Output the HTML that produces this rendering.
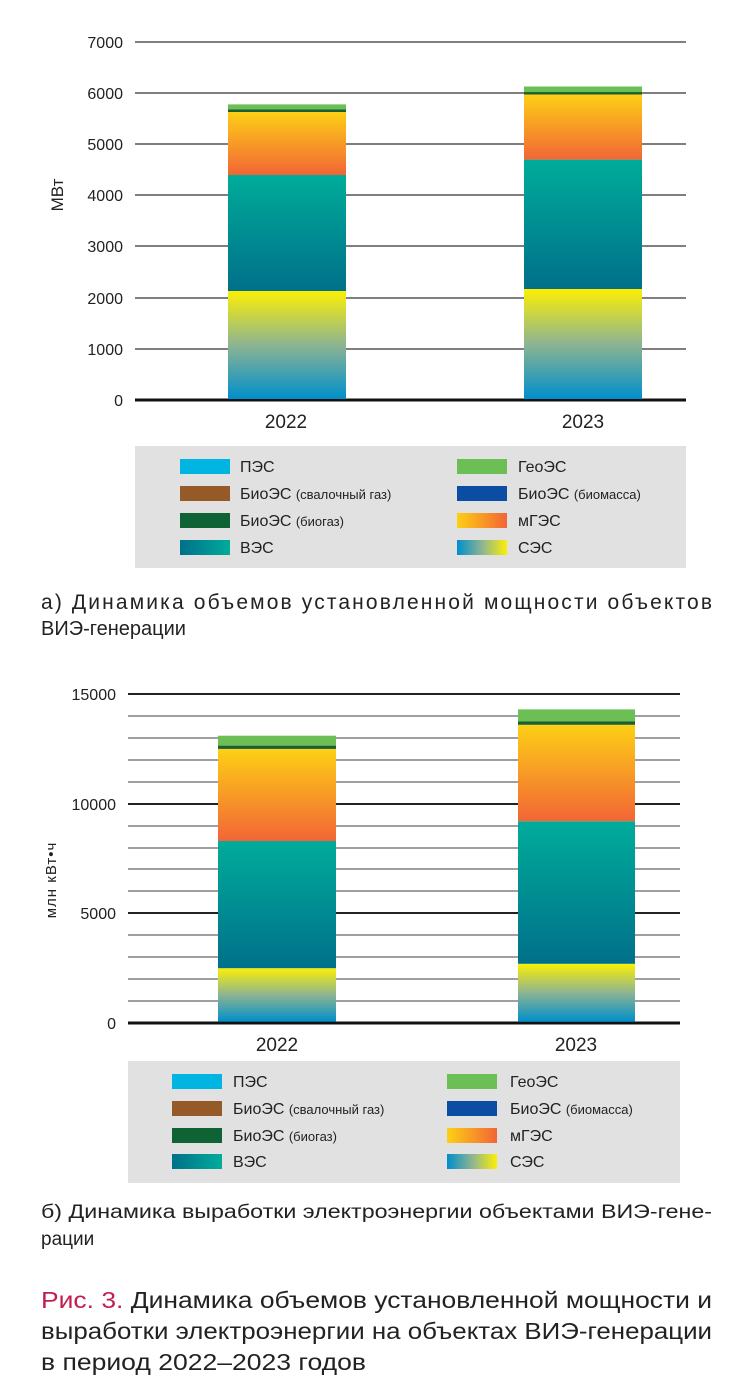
<!DOCTYPE html>
<html><head><meta charset="utf-8"><style>
body{margin:0;background:#fff;width:740px;height:1393px;position:relative;overflow:hidden;font-family:"Liberation Sans",sans-serif;color:#222}
</style></head><body>
<svg width="740" height="1393" style="position:absolute;left:0;top:0">
<defs>
<linearGradient id="ses" x1="0" y1="1" x2="0" y2="0"><stop offset="0" stop-color="#008fcb"/><stop offset="0.5" stop-color="#8db492"/><stop offset="1" stop-color="#fbef05"/></linearGradient>
<linearGradient id="ves" x1="0" y1="1" x2="0" y2="0"><stop offset="0" stop-color="#00708a"/><stop offset="1" stop-color="#00ac9a"/></linearGradient>
<linearGradient id="mg" x1="0" y1="1" x2="0" y2="0"><stop offset="0" stop-color="#f26536"/><stop offset="1" stop-color="#fdd015"/></linearGradient>
<linearGradient id="lses" x1="0" y1="0" x2="1" y2="0"><stop offset="0" stop-color="#008fcb"/><stop offset="0.5" stop-color="#8db492"/><stop offset="1" stop-color="#fbef05"/></linearGradient>
<linearGradient id="lves" x1="0" y1="0" x2="1" y2="0"><stop offset="0" stop-color="#00708a"/><stop offset="1" stop-color="#00ac9a"/></linearGradient>
<linearGradient id="lmg" x1="0" y1="0" x2="1" y2="0"><stop offset="0" stop-color="#fdd015"/><stop offset="1" stop-color="#f26536"/></linearGradient>
</defs>
<g stroke="#555" stroke-width="1.5">
<line x1="135" x2="686" y1="42" y2="42"/><line x1="135" x2="686" y1="93" y2="93"/><line x1="135" x2="686" y1="144" y2="144"/><line x1="135" x2="686" y1="195" y2="195"/><line x1="135" x2="686" y1="246" y2="246"/><line x1="135" x2="686" y1="298" y2="298"/><line x1="135" x2="686" y1="349" y2="349"/>
</g>
<line x1="135" x2="686" y1="400" y2="400" stroke="#111" stroke-width="3"/>
<rect x="228" y="291" width="118" height="108" fill="url(#ses)"/>
<rect x="228" y="175" width="118" height="116" fill="url(#ves)"/>
<rect x="228" y="111.6" width="118" height="63.4" fill="url(#mg)"/>
<rect x="228" y="109.5" width="118" height="2.5" fill="#1a5e32"/>
<rect x="228" y="104.4" width="118" height="5.1" fill="#6cbf55"/>
<rect x="524" y="289" width="118" height="110" fill="url(#ses)"/>
<rect x="524" y="159.6" width="118" height="129.4" fill="url(#ves)"/>
<rect x="524" y="94.2" width="118" height="65.4" fill="url(#mg)"/>
<rect x="524" y="92" width="118" height="2.5" fill="#1a5e32"/>
<rect x="524" y="86.5" width="118" height="5.6" fill="#6cbf55"/>
<g stroke="#666" stroke-width="1.3">
<line x1="128" x2="680" y1="716" y2="716"/><line x1="128" x2="680" y1="738" y2="738"/><line x1="128" x2="680" y1="760" y2="760"/><line x1="128" x2="680" y1="782" y2="782"/>
<line x1="128" x2="680" y1="826" y2="826"/><line x1="128" x2="680" y1="848" y2="848"/><line x1="128" x2="680" y1="869" y2="869"/><line x1="128" x2="680" y1="891" y2="891"/>
<line x1="128" x2="680" y1="935" y2="935"/><line x1="128" x2="680" y1="957" y2="957"/><line x1="128" x2="680" y1="979" y2="979"/><line x1="128" x2="680" y1="1001" y2="1001"/>
</g>
<g stroke="#222" stroke-width="2">
<line x1="128" x2="680" y1="694" y2="694"/><line x1="128" x2="680" y1="804" y2="804"/><line x1="128" x2="680" y1="913" y2="913"/>
</g>
<line x1="128" x2="680" y1="1023" y2="1023" stroke="#111" stroke-width="3"/>
<rect x="218" y="968.2" width="118" height="53.5" fill="url(#ses)"/>
<rect x="218" y="841" width="118" height="127.2" fill="url(#ves)"/>
<rect x="218" y="748.9" width="118" height="92.1" fill="url(#mg)"/>
<rect x="218" y="745.6" width="118" height="3.3" fill="#1a5e32"/>
<rect x="218" y="735.7" width="118" height="9.9" fill="#6cbf55"/>
<rect x="518" y="963.8" width="117" height="58" fill="url(#ses)"/>
<rect x="518" y="821.2" width="117" height="142.6" fill="url(#ves)"/>
<rect x="518" y="724.8" width="117" height="96.4" fill="url(#mg)"/>
<rect x="518" y="721.5" width="117" height="3.3" fill="#1a5e32"/>
<rect x="518" y="709.4" width="117" height="12.1" fill="#6cbf55"/>
<rect x="135" y="446" width="551" height="122" fill="#e1e1e1"/>
<g>
<rect x="180" y="459" width="50" height="15" fill="#00b5e2"/><rect x="180" y="486" width="50" height="15" fill="#955a28"/><rect x="180" y="513" width="50" height="15" fill="#0f6233"/><rect x="180" y="540" width="50" height="15" fill="url(#lves)"/>
<rect x="457" y="459" width="50" height="15" fill="#6cbf55"/><rect x="457" y="486" width="50" height="15" fill="#0b4da2"/><rect x="457" y="513" width="50" height="15" fill="url(#lmg)"/><rect x="457" y="540" width="50" height="15" fill="url(#lses)"/>
</g>
<rect x="128" y="1061" width="552" height="122" fill="#e1e1e1"/>
<g>
<rect x="172" y="1074" width="50" height="15" fill="#00b5e2"/><rect x="172" y="1101" width="50" height="15" fill="#955a28"/><rect x="172" y="1128" width="50" height="15" fill="#0f6233"/><rect x="172" y="1154" width="50" height="15" fill="url(#lves)"/>
<rect x="447" y="1074" width="50" height="15" fill="#6cbf55"/><rect x="447" y="1101" width="50" height="15" fill="#0b4da2"/><rect x="447" y="1128" width="50" height="15" fill="url(#lmg)"/><rect x="447" y="1154" width="50" height="15" fill="url(#lses)"/>
</g>
<g font-family="Liberation Sans, sans-serif" font-size="16" fill="#222" text-anchor="end">
<text x="123" y="48">7000</text><text x="123" y="99">6000</text><text x="123" y="150">5000</text><text x="123" y="201">4000</text><text x="123" y="252">3000</text><text x="123" y="304">2000</text><text x="123" y="355">1000</text><text x="123" y="406">0</text>
<text x="116" y="700">15000</text><text x="116" y="810">10000</text><text x="116" y="919">5000</text><text x="116" y="1029">0</text>
</g>
<g font-family="Liberation Sans, sans-serif" font-size="19" fill="#222" text-anchor="middle">
<text x="286" y="428">2022</text><text x="583" y="428">2023</text>
<text x="277" y="1051">2022</text><text x="576" y="1051">2023</text>
<text transform="translate(63,195) rotate(-90)" font-size="17">МВт</text>
<text transform="translate(56,880) rotate(-90)" font-size="15" letter-spacing="1">млн кВт•ч</text>
</g>
<g font-family="Liberation Sans, sans-serif" font-size="16" fill="#222">
<text x="240" y="472">ПЭС</text><text x="240" y="499">БиоЭС <tspan font-size="13">(свалочный газ)</tspan></text><text x="240" y="526">БиоЭС <tspan font-size="13">(биогаз)</tspan></text><text x="240" y="553">ВЭС</text>
<text x="518" y="472">ГеоЭС</text><text x="518" y="499">БиоЭС <tspan font-size="13">(биомасса)</tspan></text><text x="518" y="526">мГЭС</text><text x="518" y="553">СЭС</text>
<text x="233" y="1087">ПЭС</text><text x="233" y="1114">БиоЭС <tspan font-size="13">(свалочный газ)</tspan></text><text x="233" y="1141">БиоЭС <tspan font-size="13">(биогаз)</tspan></text><text x="233" y="1167">ВЭС</text>
<text x="510" y="1087">ГеоЭС</text><text x="510" y="1114">БиоЭС <tspan font-size="13">(биомасса)</tspan></text><text x="510" y="1141">мГЭС</text><text x="510" y="1167">СЭС</text>
</g>
<g font-family="Liberation Sans, sans-serif" fill="#222">
<text x="41" y="609" font-size="21" textLength="671" lengthAdjust="spacing">а) Динамика объемов установленной мощности объектов</text>
<text x="41" y="635" font-size="20">ВИЭ-генерации</text>
<text x="41" y="1218" font-size="19" textLength="671" lengthAdjust="spacingAndGlyphs">б) Динамика выработки электроэнергии объектами ВИЭ-гене-</text>
<text x="41" y="1245" font-size="19">рации</text>
<text x="41" y="1308" font-size="23" textLength="671" lengthAdjust="spacingAndGlyphs"><tspan fill="#c21e4f">Рис. 3.</tspan> Динамика объемов установленной мощности и</text>
<text x="41" y="1339" font-size="23" textLength="671" lengthAdjust="spacingAndGlyphs">выработки электроэнергии на объектах ВИЭ-генерации</text>
<text x="41" y="1370" font-size="23" textLength="325" lengthAdjust="spacingAndGlyphs">в период 2022–2023 годов</text>
</g>
</svg>
</body></html>
